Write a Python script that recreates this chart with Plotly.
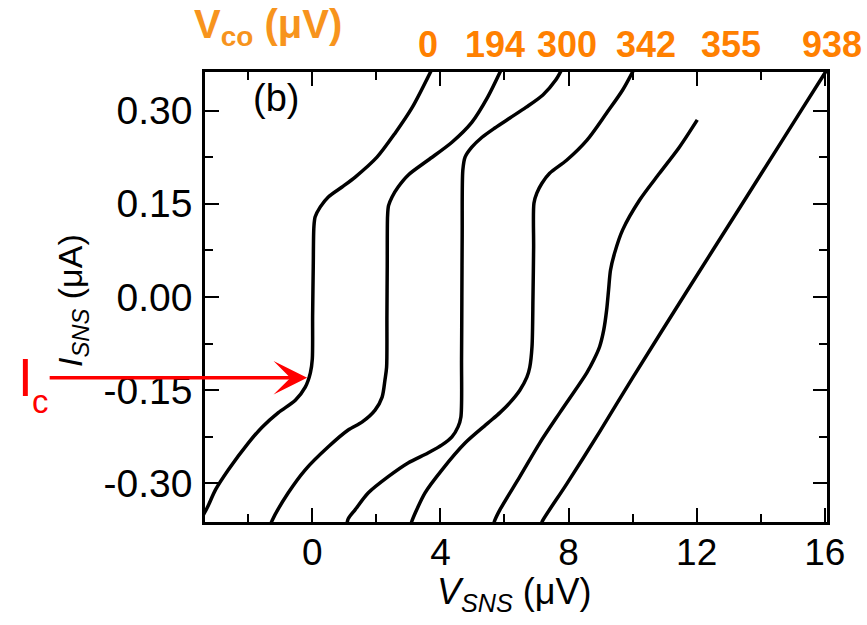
import plotly.graph_objects as go

# I-V characteristics of the SNS junction for several control voltages V_co
vco_labels = ["0", "194", "300", "342", "355", "938"]

v_0 = [-3.45, -3.27, -3.02, -2.62, -2.0, -1.56, -1.06, -0.53, -0.22, -0.06, 0.0, 0.01,
       0.03, 0.05, 0.09, 0.25, 0.50, 0.93, 1.34, 2.02, 2.59, 3.12, 3.72]
i_0 = [-0.355, -0.338, -0.310, -0.278, -0.235, -0.209, -0.186, -0.166, -0.145, -0.122,
       -0.100, -0.03, 0.05, 0.113, 0.129, 0.145, 0.161, 0.177, 0.193, 0.225, 0.264, 0.305, 0.365]

v_194 = [-1.30, -1.25, -0.75, -0.22, 0.50, 1.12, 1.56, 1.96, 2.18, 2.27, 2.32, 2.33,
         2.34, 2.35, 2.38, 2.49, 2.68, 2.99, 3.61, 4.36, 4.98, 5.48, 5.90]
i_194 = [-0.366, -0.359, -0.315, -0.278, -0.241, -0.214, -0.201, -0.182, -0.161, -0.133,
         -0.113, -0.03, 0.05, 0.130, 0.147, 0.161, 0.177, 0.196, 0.220, 0.249, 0.281, 0.322, 0.366]

v_300 = [1.08, 1.12, 1.34, 1.75, 2.37, 2.99, 3.61, 4.05, 4.36, 4.55, 4.64, 4.66,
         4.67, 4.68, 4.70, 4.77, 4.98, 5.30, 5.70, 6.17, 6.67, 7.20, 7.60, 7.79]
i_300 = [-0.366, -0.357, -0.342, -0.315, -0.289, -0.267, -0.251, -0.238, -0.225, -0.209,
         -0.193, -0.10, 0.0, 0.10, 0.204, 0.225, 0.241, 0.257, 0.272, 0.288, 0.305, 0.325,
         0.349, 0.366]

v_342 = [3.08, 3.12, 3.52, 4.05, 4.77, 5.48, 5.86, 6.17, 6.48, 6.70, 6.79, 6.86,
         6.89, 6.91, 6.92, 7.01, 7.17, 7.41, 7.94, 8.57, 9.19, 9.69, 10.04]
i_342 = [-0.366, -0.359, -0.315, -0.278, -0.235, -0.203, -0.186, -0.170, -0.150, -0.129,
         -0.113, -0.08, 0.0, 0.08, 0.151, 0.167, 0.183, 0.199, 0.220, 0.252, 0.296, 0.333, 0.366]

v_355 = [5.66, 5.70, 5.86, 6.48, 7.10, 7.73, 8.57, 8.79, 8.97, 9.10, 9.19, 9.25,
         9.31, 9.44, 9.69, 10.22, 10.84, 11.46, 12.02]
i_355 = [-0.366, -0.359, -0.342, -0.289, -0.235, -0.186, -0.122, -0.101, -0.080, -0.053,
         -0.021, 0.011, 0.043, 0.071, 0.108, 0.156, 0.199, 0.241, 0.285]

v_938 = [7.14, 7.20, 7.94, 8.97, 10.0, 11.68, 13.40, 14.70, 16.00, 16.08]
i_938 = [-0.366, -0.359, -0.301, -0.217, -0.130, 0.008, 0.148, 0.254, 0.360, 0.366]

curves_v = [v_0, v_194, v_300, v_342, v_355, v_938]
curves_i = [i_0, i_194, i_300, i_342, i_355, i_938]

# critical current marked by the red arrow (zero-voltage curve)
ic_current = -0.130
ic_voltage = -0.16

x_ticks = [0, 4, 8, 12, 16]
x_minor = [-2, 2, 6, 10, 14]
y_ticks = [-0.30, -0.15, 0.00, 0.15, 0.30]
y_ticktext = ["-0.30", "-0.15", "0.00", "0.15", "0.30"]
y_minor = [-0.375, -0.225, -0.075, 0.075, 0.225, 0.375]

X_RANGE = [-3.35, 16.07]
Y_RANGE = [-0.362, 0.362]

FONT = "Arial, 'Liberation Sans', sans-serif"
ORANGE_TITLE = "#F7941D"
ORANGE_NUM = "#FF8000"

fig = go.Figure()
for v, i, lab in zip(curves_v, curves_i, vco_labels):
    fig.add_trace(go.Scatter(
        x=v, y=i, mode="lines", name=lab,
        line=dict(color="black", width=3.5, shape="spline", smoothing=0.8),
        showlegend=False, hoverinfo="skip",
    ))

axis_common = dict(
    showline=True, linecolor="black", linewidth=2.5, mirror="allticks",
    ticks="inside", ticklen=14, tickwidth=2, tickcolor="black",
    showgrid=False, zeroline=False,
)

fig.update_xaxes(
    range=X_RANGE, tickmode="array", tickvals=x_ticks,
    ticktext=[str(t) for t in x_ticks],
    tickfont=dict(family=FONT, size=37, color="black"),
    minor=dict(tickmode="array", tickvals=x_minor, ticks="inside", ticklen=8,
               tickwidth=2, tickcolor="black", showgrid=False),
    ticklabelstandoff=-4,
    **axis_common,
)
fig.update_yaxes(
    range=Y_RANGE, tickmode="array", tickvals=y_ticks, ticktext=y_ticktext,
    tickfont=dict(family=FONT, size=39, color="black"),
    minor=dict(tickmode="array", tickvals=y_minor, ticks="inside", ticklen=8,
               tickwidth=2, tickcolor="black", showgrid=False),
    ticklabelstandoff=2,
    **axis_common,
)


def x_to_paper(xv):
    return (xv - X_RANGE[0]) / (X_RANGE[1] - X_RANGE[0])


annotations = []

# V_co values above each curve (placed in data units along V_SNS)
label_x = [3.61, 5.69, 7.96, 10.42, 13.07, 16.23]
for lx, lab in zip(label_x, vco_labels):
    annotations.append(dict(
        x=x_to_paper(lx), y=1.06, xref="paper", yref="paper", text=lab, showarrow=False,
        xanchor="center", yanchor="middle",
        font=dict(family=FONT, size=36, color=ORANGE_NUM, weight="bold"),
    ))

annotations.append(dict(
    x=-0.021, y=1.099, xref="paper", yref="paper",
    text="<b>V<sub>co</sub> (μV)</b>", showarrow=False,
    xanchor="left", yanchor="middle",
    font=dict(family=FONT, size=40, color=ORANGE_TITLE),
))

annotations.append(dict(
    x=0.114, y=0.942, xref="paper", yref="paper", text="(b)", showarrow=False,
    xanchor="center", yanchor="middle",
    font=dict(family=FONT, size=38, color="black"),
))

# axis titles
annotations.append(dict(
    x=0.498, y=-0.16, xref="paper", yref="paper",
    text="<i>V</i><sub><i>SNS</i></sub> (μV)", showarrow=False,
    xanchor="center", yanchor="middle",
    font=dict(family=FONT, size=36, color="black"),
))
annotations.append(dict(
    x=-0.214, y=0.493, xref="paper", yref="paper",
    text="<i>I</i><sub><i>SNS</i></sub> (μA)", showarrow=False, textangle=-90,
    xanchor="center", yanchor="middle",
    font=dict(family=FONT, size=34, color="black"),
))

# critical current arrow
annotations.append(dict(
    x=ic_voltage, y=ic_current, xref="x", yref="y",
    ax=-259, ay=0, axref="pixel", ayref="pixel",
    showarrow=True, arrowhead=3, arrowsize=1.6, arrowwidth=3.5,
    arrowcolor="#FF0000", text="",
))
annotations.append(dict(
    x=-0.304, y=ic_current, xref="paper", yref="y",
    text="I", showarrow=False, xanchor="left", yanchor="middle",
    font=dict(family=FONT, size=53, color="#FF0000"),
))
annotations.append(dict(
    x=-0.282, y=0.267, xref="paper", yref="paper",
    text="c", showarrow=False, xanchor="left", yanchor="middle",
    font=dict(family=FONT, size=33, color="#FF0000"),
))

fig.update_layout(
    width=867, height=625,
    margin=dict(l=205, r=40, t=72, b=103),
    paper_bgcolor="white", plot_bgcolor="white",
    annotations=annotations,
)

fig.write_html("out.html")
